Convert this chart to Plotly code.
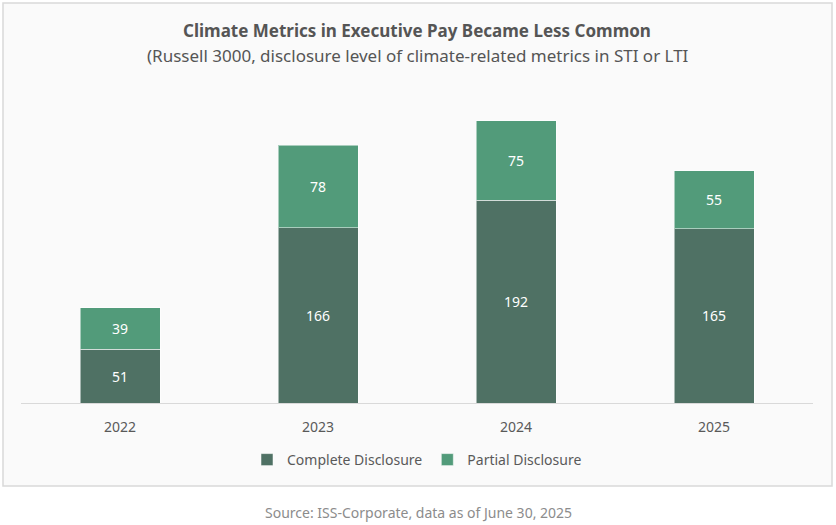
import plotly.graph_objects as go

years = ["2022", "2023", "2024", "2025"]
complete = [51, 166, 192, 165]
partial = [39, 78, 75, 55]

dark = "#4f7164"
light = "#529b7a"
font = "Noto Sans"

fig = go.Figure()
fig.add_trace(go.Bar(x=years, y=complete, name="Complete Disclosure", marker=dict(color=dark, line=dict(color="rgba(255,255,255,0.5)", width=1)),
                     text=complete, textposition="inside", insidetextanchor="middle",
                     textfont=dict(color="white", size=14, family=font)))
fig.add_trace(go.Bar(x=years, y=partial, name="Partial Disclosure", marker=dict(color=light, line=dict(color="rgba(255,255,255,0.5)", width=1)),
                     text=partial, textposition="inside", insidetextanchor="middle",
                     textfont=dict(color="white", size=14, family=font)))

fig.update_layout(
    barmode="stack", bargap=0.596,
    width=836, height=525,
    margin=dict(l=21, r=23, t=86, b=122),
    paper_bgcolor="white", plot_bgcolor="#fafafa",
    font=dict(family=font, color="#595959", size=14),
    showlegend=True,
    legend=dict(orientation="h", x=0.5, xanchor="center", y=-(460-403)/317, yanchor="middle",
                bgcolor="rgba(0,0,0,0)",
                font=dict(size=14, color="#595959"), itemwidth=30, traceorder="normal"),
    xaxis=dict(showline=True, linecolor="#d9d9d9", linewidth=1, ticks="outside", ticklen=11,
               tickcolor="rgba(0,0,0,0)", tickfont=dict(size=14, color="#595959")),
    yaxis=dict(range=[0, 300], showgrid=False, showticklabels=False, zeroline=False),
    uniformtext=dict(mode="show", minsize=10),
)

fig.add_shape(type="rect", xref="paper", yref="paper", layer="below",
              x0=-18/792, x1=(832-21)/792, y0=(525-122-486)/317, y1=(525-122-3)/317,
              line=dict(color="#d9d9d9", width=1.5), fillcolor="#fafafa")

fig.add_annotation(xref="paper", yref="paper", x=(417-21)/792, y=(403-31)/317, yanchor="middle",
                   text="<b>Climate Metrics in Executive Pay Became Less Common</b>", showarrow=False,
                   font=dict(size=17, color="#555555", family=font))
fig.add_annotation(xref="paper", yref="paper", x=(418-21)/792, y=(403-56)/317, yanchor="middle",
                   text="(Russell 3000, disclosure level of climate-related metrics in STI or LTI", showarrow=False,
                   font=dict(size=17, color="#555555", family=font))
fig.add_annotation(xref="paper", yref="paper", x=(419-21)/792, y=(403-512)/317, yanchor="middle",
                   text="Source: ISS-Corporate, data as of June 30, 2025", showarrow=False,
                   font=dict(size=14, color="#8c8c8c", family=font))

fig.write_html("out.html", config={"displayModeBar": False},
               post_script="document.body.style.margin='0';document.body.style.overflow='hidden';")
